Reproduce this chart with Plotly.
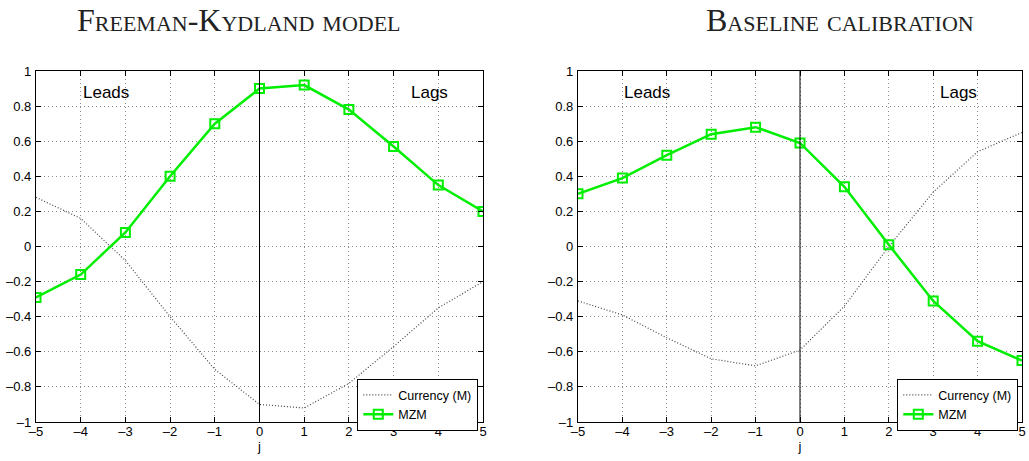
import plotly.graph_objects as go

j = [-5, -4, -3, -2, -1, 0, 1, 2, 3, 4, 5]
fk_mzm = [-0.29, -0.16, 0.08, 0.40, 0.70, 0.90, 0.92, 0.78, 0.57, 0.35, 0.20]
fk_cur = [0.28, 0.16, -0.08, -0.40, -0.70, -0.90, -0.92, -0.78, -0.57, -0.35, -0.20]
bl_mzm = [0.30, 0.39, 0.52, 0.64, 0.68, 0.59, 0.34, 0.01, -0.31, -0.54, -0.65]
bl_cur = [-0.31, -0.39, -0.52, -0.64, -0.68, -0.59, -0.34, 0.00, 0.31, 0.54, 0.65]
xticks = [-5, -4, -3, -2, -1, 0, 1, 2, 3, 4, 5]
yticks = [-1, -0.8, -0.6, -0.4, -0.2, 0, 0.2, 0.4, 0.6, 0.8, 1]
ytext = ["\u20131", "\u20130.8", "\u20130.6", "\u20130.4", "\u20130.2", "0", "0.2", "0.4", "0.6", "0.8", "1"]
xtext = ["\u20135", "\u20134", "\u20133", "\u20132", "\u20131", "0", "1", "2", "3", "4", "5"]
titles = ["Freeman-Kydland model", "Baseline calibration"]

W, H = 1029, 461
GREEN = "#00ee00"
SANS = "Liberation Sans, Arial, sans-serif"
SERIF = "Liberation Serif, serif"

fig = go.Figure()

panels = [
    dict(mzm=fk_mzm, cur=fk_cur, xa="x", ya="y", leg="legend"),
    dict(mzm=bl_mzm, cur=bl_cur, xa="x2", ya="y2", leg="legend2"),
]
for p in panels:
    fig.add_trace(go.Scatter(x=j, y=p["cur"], mode="lines", name="Currency (M)",
                             line=dict(color="#444444", width=1.2, dash="1px,2px"),
                             xaxis=p["xa"], yaxis=p["ya"], legend=p["leg"]))
    fig.add_trace(go.Scatter(x=j, y=p["mzm"], mode="lines+markers", name="MZM",
                             line=dict(color=GREEN, width=2.5),
                             marker=dict(symbol="square-open", size=9, color=GREEN,
                                         line=dict(width=2, color=GREEN)),
                             xaxis=p["xa"], yaxis=p["ya"], legend=p["leg"]))

ydom = [(H - 422) / H, (H - 71) / H]
xdom1 = [36 / W, 483 / W]
xdom2 = [578 / W, 1022 / W]

axcommon = dict(showline=True, linecolor="black", linewidth=1.3, mirror="ticks",
                ticks="inside", ticklen=5, tickcolor="black", automargin=False,
                showgrid=True, gridcolor="#8a8a8a", griddash="1px,3px", gridwidth=1,
                zeroline=False, tickfont=dict(family=SANS, size=13, color="black"))
xextra = dict(ticklabelstandoff=-3,
              title=dict(text="j", font=dict(family=SANS, size=13, color="black"), standoff=1))

fig.update_layout(
    width=W, height=H, autosize=False,
    margin=dict(l=0, r=0, t=0, b=0),
    paper_bgcolor="white", plot_bgcolor="white",
    showlegend=True,
    xaxis=dict(domain=xdom1, range=[-5, 5], tickvals=xticks, ticktext=xtext, anchor="y",
               **xextra, **axcommon),
    yaxis=dict(domain=ydom, range=[-1, 1], tickvals=yticks, ticktext=ytext, anchor="x",
               ticklabelstandoff=1, **axcommon),
    xaxis2=dict(domain=xdom2, range=[-5, 5], tickvals=xticks, ticktext=xtext, anchor="y2",
                **xextra, **axcommon),
    yaxis2=dict(domain=ydom, range=[-1, 1], tickvals=yticks, ticktext=ytext, anchor="x2",
                ticklabelstandoff=1, **axcommon),
    legend=dict(x=478 / W, y=(H - 379) / H, xanchor="right", yanchor="top",
                bgcolor="white", bordercolor="black", borderwidth=1.3,
                font=dict(family=SANS, size=12.5, color="black"),
                tracegroupgap=0, itemwidth=30),
    legend2=dict(x=1018 / W, y=(H - 379) / H, xanchor="right", yanchor="top",
                 bgcolor="white", bordercolor="black", borderwidth=1.3,
                 font=dict(family=SANS, size=12.5, color="black"),
                 tracegroupgap=0, itemwidth=30),
)

# vertical line at j = 0
for xa, ya in [("x", "y"), ("x2", "y2")]:
    fig.add_shape(type="line", x0=0, x1=0, y0=-1, y1=1, xref=xa, yref=ya,
                  line=dict(color="black", width=1))

for t, cx in zip(titles, [239, 840]):
    fig.add_annotation(text=t, x=cx / W, y=1, xref="paper", yref="paper",
                       showarrow=False, xanchor="center", yanchor="top",
                       font=dict(family=SERIF, size=32, color="#222222", variant="small-caps"))

labels = [("x", "y", -3.43, 0.88, "Leads"), ("x", "y", 3.81, 0.88, "Lags"),
          ("x2", "y2", -3.45, 0.88, "Leads"), ("x2", "y2", 3.58, 0.88, "Lags")]
for xa, ya, xv, yv, t in labels:
    fig.add_annotation(text=t, x=xv, y=yv, xref=xa, yref=ya, showarrow=False,
                       font=dict(family=SANS, size=17, color="black"))

fig.write_html("out.html")
